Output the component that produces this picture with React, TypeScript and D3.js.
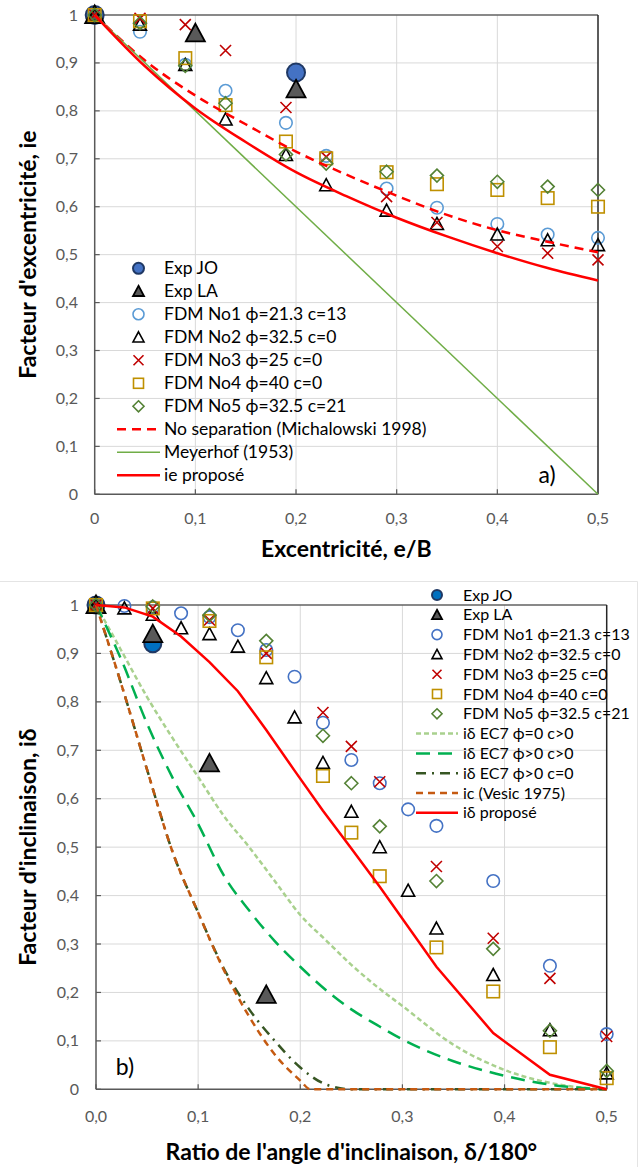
import React from 'react';
import * as d3 from 'd3';

// ---------------- DATA : chart a) ----------------
const topXs = [0, 0.045, 0.09, 0.13, 0.19, 0.23, 0.29, 0.34, 0.4, 0.45, 0.5];
const topExpJOx = [0, 0.2];
const topExpJO = [1, 0.88];
const topExpLAx = [0, 0.1, 0.2];
const topExpLA = [1, 0.962, 0.845];
const topNo1 = [1, 0.965, 0.896, 0.842, 0.775, 0.706, 0.638, 0.598, 0.564, 0.542, 0.535];
const topNo2 = [1, 0.98, 0.896, 0.782, 0.708, 0.645, 0.592, 0.564, 0.542, 0.53, 0.52];
const topNo3 = [1, 0.993, 0.98, 0.926, 0.807, 0.704, 0.621, 0.567, 0.517, 0.503, 0.489];
const topNo4 = [1, 0.987, 0.91, 0.812, 0.736, 0.701, 0.672, 0.647, 0.635, 0.618, 0.6];
const topNo5 = [1, 0.983, 0.894, 0.816, 0.709, 0.69, 0.673, 0.665, 0.652, 0.642, 0.635];
const topLineX = [0, 0.05, 0.1, 0.15, 0.2, 0.25, 0.3, 0.35, 0.4, 0.45, 0.5];
const noSeparation = [1, 0.905, 0.832, 0.772, 0.715, 0.667, 0.623, 0.583, 0.551, 0.527, 0.505];
const iePropose = [1, 0.893, 0.805, 0.735, 0.672, 0.622, 0.577, 0.538, 0.503, 0.472, 0.446];
const meyerhofX = [0, 0.5];
const meyerhof = [1, 0];
const topXTicks = ['0', '0,1', '0,2', '0,3', '0,4', '0,5'];
const yTicks = ['0', '0,1', '0,2', '0,3', '0,4', '0,5', '0,6', '0,7', '0,8', '0,9', '1'];

// ---------------- DATA : chart b) ----------------
const botXs = [0, 0.0278, 0.0556, 0.0833, 0.1111, 0.1389, 0.1667, 0.1944, 0.2222, 0.25, 0.2778, 0.3056, 0.3333, 0.3889, 0.4444, 0.5];
const botExpJOx = [0, 0.0556];
const botExpJO = [1, 0.92];
const botExpLAx = [0, 0.0556, 0.1111, 0.1667];
const botExpLA = [1, 0.94, 0.673, 0.195];
const botNo1 = [1, 0.998, 0.995, 0.983, 0.975, 0.948, 0.907, 0.852, 0.757, 0.68, 0.632, 0.578, 0.544, 0.43, 0.255, 0.114];
const botNo2 = [1, 0.993, 0.98, 0.952, 0.94, 0.914, 0.849, 0.768, 0.674, 0.573, 0.5, 0.41, 0.332, 0.236, 0.122, 0.033];
const botNo3 = [1, null, 0.993, null, 0.969, null, 0.9, null, 0.778, 0.708, 0.635, null, 0.46, 0.312, 0.229, 0.109];
const botNo4 = [1, null, 0.993, null, 0.967, null, 0.892, null, 0.647, 0.53, 0.44, null, 0.293, 0.202, 0.087, 0.023];
const botNo5 = [1, null, 0.997, null, 0.979, null, 0.926, null, 0.73, 0.632, 0.543, null, 0.43, 0.29, 0.121, 0.038];
const botLineX = [0, 0.025, 0.05, 0.075, 0.1, 0.125, 0.15, 0.175, 0.2, 0.225, 0.25, 0.275, 0.3, 0.35, 0.4, 0.45, 0.5];
const ec7Phi0 = [1, 0.905, 0.81, 0.725, 0.645, 0.565, 0.5, 0.43, 0.36, 0.308, 0.257, 0.212, 0.172, 0.092, 0.04, 0.011, 0];
const ec7PhiC = [1, 0.886, 0.755, 0.643, 0.548, 0.442, 0.369, 0.306, 0.253, 0.205, 0.165, 0.133, 0.103, 0.058, 0.028, 0.008, 0];
const ec7C0 = [1, 0.835, 0.66, 0.49, 0.365, 0.25, 0.165, 0.1, 0.045, 0.01, 0, 0, 0, 0, 0, 0, 0];
const vesicX = [0, 0.025, 0.05, 0.075, 0.1, 0.125, 0.15, 0.175, 0.2, 0.21, 0.25, 0.3, 0.35, 0.4, 0.45, 0.5];
const vesic = [1, 0.835, 0.66, 0.49, 0.365, 0.247, 0.15, 0.072, 0.018, 0, 0, 0, 0, 0, 0, 0];
const iDeltaX = [0, 0.0278, 0.0556, 0.0833, 0.1111, 0.1389, 0.1667, 0.1944, 0.2222, 0.25, 0.2778, 0.3333, 0.3889, 0.4444, 0.5];
const iDelta = [1, 0.995, 0.976, 0.935, 0.882, 0.822, 0.742, 0.658, 0.575, 0.497, 0.418, 0.253, 0.116, 0.03, 0];
const botXTicks = ['0,0', '0,1', '0,2', '0,3', '0,4', '0,5'];

const FONT = 'Lato, "Open Sans", sans-serif';

type MType = 'circleF' | 'triF' | 'circle' | 'tri' | 'x' | 'square' | 'diamond';

function Marker({ t, x, y, s, c, f }: { t: MType; x: number; y: number; s: number; c: string; f?: string }) {
  const h = s / 2;
  const sw = 1.6;
  if (t === 'circleF') return <circle cx={x} cy={y} r={h} fill={f} stroke={c} strokeWidth={2} />;
  if (t === 'circle') return <circle cx={x} cy={y} r={h} fill="none" stroke={c} strokeWidth={sw} />;
  if (t === 'triF' || t === 'tri') {
    const p = `M${x},${y - h}L${x + h},${y + h * 0.85}L${x - h},${y + h * 0.85}Z`;
    return <path d={p} fill={t === 'triF' ? f : 'none'} stroke={c} strokeWidth={t === 'triF' ? 1.8 : sw} strokeLinejoin="miter" />;
  }
  if (t === 'x') {
    return (
      <path d={`M${x - h},${y - h}L${x + h},${y + h}M${x - h},${y + h}L${x + h},${y - h}`} stroke={c} strokeWidth={sw} fill="none" />
    );
  }
  if (t === 'square') return <rect x={x - h} y={y - h} width={s} height={s} fill="none" stroke={c} strokeWidth={sw} />;
  return <path d={`M${x},${y - h}L${x + h},${y}L${x},${y + h}L${x - h},${y}Z`} fill="none" stroke={c} strokeWidth={sw} />;
}

type Series = { xs: number[]; ys: (number | null)[]; t: MType; c: string; f?: string; s: number; ls: number; label: string };
type LineS = { xs: number[]; ys: number[]; c: string; w: number; dash?: string; curve: boolean; label: string };

function Panel(props: {
  x0: number; x1: number; y0: number; y1: number;
  series: Series[]; lines: LineS[]; xTicks: string[];
  yTitle: string; xTitle: string; yTitleX: number; xTitleY: number; xLabelY: number; yLabelX: number;
  legY: number; legDy: number; legFont: number; legLine: [number, number]; legText: number;
  tag: string; tagX: number; tagY: number;
}) {
  const xs = d3.scaleLinear().domain([0, 0.5]).range([props.x0, props.x1]);
  const ys = d3.scaleLinear().domain([0, 1]).range([props.y0, props.y1]);
  const xt = d3.range(0, 6).map((i) => i / 10);
  const yt = d3.range(0, 11).map((i) => i / 10);
  const grid = '#d9d9d9';
  const axis = '#595959';
  const legItems = [
    ...props.series.map((s) => ({ kind: 'm' as const, s })),
    ...props.lines.map((l) => ({ kind: 'l' as const, l })),
  ];
  return (
    <g>
      {yt.slice(1).map((v, i) => (
        <line key={'gy' + i} x1={props.x0} x2={props.x1} y1={ys(v)} y2={ys(v)} stroke={grid} strokeWidth={1} />
      ))}
      {xt.slice(1, 5).map((v, i) => (
        <line key={'gx' + i} x1={xs(v)} x2={xs(v)} y1={props.y0} y2={props.y1} stroke={grid} strokeWidth={1} />
      ))}
      <line x1={props.x0} x2={props.x1} y1={props.y1} y2={props.y1} stroke="#262626" strokeWidth={1.2} />
      <line x1={props.x1} x2={props.x1} y1={props.y1} y2={props.y0} stroke="#262626" strokeWidth={1.5} />
      <line x1={props.x0} x2={props.x1} y1={props.y0} y2={props.y0} stroke={axis} strokeWidth={1.5} />
      <line x1={props.x0} x2={props.x0} y1={props.y0} y2={props.y1} stroke={axis} strokeWidth={1.5} />
      {yt.map((v, i) => (
        <line key={'ty' + i} x1={props.x0} x2={props.x0 + 5} y1={ys(v)} y2={ys(v)} stroke={axis} strokeWidth={1.2} />
      ))}
      {xt.map((v, i) => (
        <line key={'tx' + i} x1={xs(v)} x2={xs(v)} y1={props.y0} y2={props.y0 - 5} stroke={axis} strokeWidth={1.2} />
      ))}
      {yt.map((v, i) => (
        <text key={'ly' + i} x={props.yLabelX} y={ys(v) + 5.5} textAnchor="end" fontSize={16} fill="#595959" fontFamily={FONT}>
          {yTicks[i]}
        </text>
      ))}
      {xt.map((v, i) => (
        <text key={'lx' + i} x={xs(v)} y={props.xLabelY} textAnchor="middle" fontSize={16} fill="#595959" fontFamily={FONT}>
          {props.xTicks[i]}
        </text>
      ))}
      <text x={(props.x0 + props.x1) / 2} y={props.xTitleY} textAnchor="middle" fontSize={23} fontWeight="bold" fontFamily={FONT} fill="#000">
        {props.xTitle}
      </text>
      <text transform={`translate(${props.yTitleX},${(props.y0 + props.y1) / 2}) rotate(-90)`} textAnchor="middle" fontSize={23} fontWeight="bold" fontFamily={FONT} fill="#000">
        {props.yTitle}
      </text>
      <text x={props.tagX} y={props.tagY} textAnchor="middle" fontSize={23} fontFamily={FONT} fill="#000">
        {props.tag}
      </text>
      {props.series.map((s, si) => (
        <g key={'s' + si}>
          {s.ys.map((v, i) =>
            v === null ? null : <Marker key={i} t={s.t} x={xs(s.xs[i])} y={ys(v)} s={s.s} c={s.c} f={s.f} />
          )}
        </g>
      ))}
      {props.lines.map((l, li) => {
        const gen = d3
          .line<number>()
          .x((_, i) => xs(l.xs[i]))
          .y((d) => ys(d))
          .curve(l.curve ? d3.curveMonotoneX : d3.curveLinear);
        return <path key={'l' + li} d={gen(l.ys) || ''} fill="none" stroke={l.c} strokeWidth={l.w} strokeDasharray={l.dash} />;
      })}
      {legItems.map((it, i) => {
        const y = props.legY + i * props.legDy;
        return (
          <g key={'lg' + i}>
            {it.kind === 'm' ? (
              <Marker t={it.s.t} x={(props.legLine[0] + props.legLine[1]) / 2} y={y} s={it.s.ls} c={it.s.c} f={it.s.f} />
            ) : (
              <line x1={props.legLine[0]} x2={props.legLine[1]} y1={y} y2={y} stroke={it.l.c} strokeWidth={it.l.w} strokeDasharray={it.l.dash} />
            )}
            <text x={props.legText} y={y + 5.5} fontSize={props.legFont} fontFamily={FONT} fill="#000">
              {it.kind === 'm' ? it.s.label : it.l.label}
            </text>
          </g>
        );
      })}
    </g>
  );
}

export default function App() {
  const topSeries: Series[] = [
    { xs: topExpJOx, ys: topExpJO, t: 'circleF', c: '#1f3864', f: '#4472c4', s: 18, ls: 11, label: 'Exp JO' },
    { xs: topExpLAx, ys: topExpLA, t: 'triF', c: '#000', f: '#595959', s: 19, ls: 11, label: 'Exp LA' },
    { xs: topXs, ys: topNo1, t: 'circle', c: '#5b9bd5', s: 12.5, ls: 11, label: 'FDM No1 ϕ=21.3 c=13' },
    { xs: topXs, ys: topNo2, t: 'tri', c: '#000', s: 13, ls: 11, label: 'FDM No2 ϕ=32.5 c=0' },
    { xs: topXs, ys: topNo3, t: 'x', c: '#c00000', s: 11, ls: 10, label: 'FDM No3 ϕ=25 c=0' },
    { xs: topXs, ys: topNo4, t: 'square', c: '#bf9000', s: 12.5, ls: 10, label: 'FDM No4 ϕ=40 c=0' },
    { xs: topXs, ys: topNo5, t: 'diamond', c: '#548235', s: 13, ls: 11, label: 'FDM No5 ϕ=32.5 c=21' },
  ];
  const topLines: LineS[] = [
    { xs: topLineX, ys: noSeparation, c: '#ff0000', w: 2.5, dash: '9,6', curve: true, label: 'No separation (Michalowski 1998)' },
    { xs: meyerhofX, ys: meyerhof, c: '#70ad47', w: 1.5, curve: false, label: 'Meyerhof (1953)' },
    { xs: topLineX, ys: iePropose, c: '#ff0000', w: 2.5, curve: true, label: 'ie proposé' },
  ];
  const botSeries: Series[] = [
    { xs: botExpJOx, ys: botExpJO, t: 'circleF', c: '#1f3864', f: '#0070c0', s: 17, ls: 10, label: 'Exp JO' },
    { xs: botExpLAx, ys: botExpLA, t: 'triF', c: '#000', f: '#595959', s: 19, ls: 10, label: 'Exp LA' },
    { xs: botXs, ys: botNo1, t: 'circle', c: '#4472c4', s: 12.5, ls: 10, label: 'FDM No1 ϕ=21.3 c=13' },
    { xs: botXs, ys: botNo2, t: 'tri', c: '#000', s: 13, ls: 10, label: 'FDM No2 ϕ=32.5 c=0' },
    { xs: botXs, ys: botNo3, t: 'x', c: '#c00000', s: 11, ls: 9, label: 'FDM No3 ϕ=25 c=0' },
    { xs: botXs, ys: botNo4, t: 'square', c: '#bf9000', s: 12.5, ls: 9, label: 'FDM No4 ϕ=40 c=0' },
    { xs: botXs, ys: botNo5, t: 'diamond', c: '#548235', s: 13, ls: 10, label: 'FDM No5 ϕ=32.5 c=21' },
  ];
  const botLines: LineS[] = [
    { xs: botLineX, ys: ec7Phi0, c: '#a9d18e', w: 2.5, dash: '5,3', curve: true, label: 'iδ EC7 ϕ=0 c>0' },
    { xs: botLineX, ys: ec7PhiC, c: '#00b050', w: 2.5, dash: '14,8', curve: true, label: 'iδ EC7 ϕ>0 c>0' },
    { xs: botLineX, ys: ec7C0, c: '#375623', w: 2.5, dash: '10,6,2,6', curve: true, label: 'iδ EC7 ϕ>0 c=0' },
    { xs: vesicX, ys: vesic, c: '#c55a11', w: 2.5, dash: '7,5', curve: true, label: 'ic (Vesic 1975)' },
    { xs: iDeltaX, ys: iDelta, c: '#ff0000', w: 2.5, curve: false, label: 'iδ proposé' },
  ];
  return (
    <svg width={641} height={1167} style={{ position: 'absolute', left: 0, top: 0, background: '#fff' }}>
      <rect x={0} y={0} width={641} height={1167} fill="#fff" />
      <line x1={0} x2={637.5} y1={581.5} y2={581.5} stroke="#e4e4e4" strokeWidth={1} />
      <line x1={637.5} x2={637.5} y1={581.5} y2={1167} stroke="#e4e4e4" strokeWidth={1} />
      <Panel
        x0={94.7} x1={598} y0={494.3} y1={15}
        series={topSeries} lines={topLines} xTicks={topXTicks}
        yTitle="Facteur d'excentricité, ie" xTitle="Excentricité, e/B"
        yTitleX={36} xTitleY={557} xLabelY={524} yLabelX={78}
        legY={268.3} legDy={23.0} legFont={17.5} legLine={[117, 160]} legText={164}
        tag="a)" tagX={547} tagY={483}
      />
      <Panel
        x0={96} x1={606.7} y0={1089.3} y1={605}
        series={botSeries} lines={botLines} xTicks={botXTicks}
        yTitle="Facteur d'inclinaison, iδ" xTitle="Ratio de l'angle d'inclinaison, δ/180°"
        yTitleX={36} xTitleY={1160} xLabelY={1122} yLabelX={79}
        legY={595} legDy={19.8} legFont={16} legLine={[416, 458]} legText={463}
        tag="b)" tagX={125} tagY={1075}
      />
    </svg>
  );
}
